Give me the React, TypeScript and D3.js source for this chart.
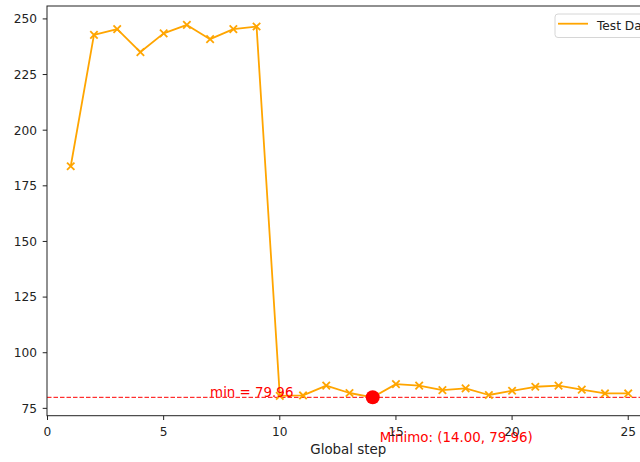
import React from "react";
import * as d3 from "d3";

// Loss per global step for the test set
const steps = [1, 2, 3, 4, 5, 6, 7, 8, 9, 10, 11, 12, 13, 14, 15, 16, 17, 18, 19, 20, 21, 22, 23, 24, 25];
const losses = [183.8, 242.8, 245.4, 235.1, 243.5, 247.3, 240.9, 245.4, 246.6, 80.6, 80.8, 85.2, 81.9, 79.96, 85.9, 85.2, 83.2, 84.0, 81.0, 82.9, 84.7, 85.2, 83.4, 81.7, 81.7];
const xTicks = [0, 5, 10, 15, 20, 25];
const yTicks = [75, 100, 125, 150, 175, 200, 225, 250];
const seriesLabel = "Test Data";

const W = 640;
const H = 462;
const FONT = "DejaVu Sans, sans-serif";

export default function App() {
  const left = 47;
  const top = 6;
  const bottom = 415.7;
  const x = d3.scaleLinear().domain([0, 25.92]).range([47.5, 649.6]);
  const y = d3.scaleLinear().domain([71.7, 255.8]).range([bottom, top]);
  const right = x.range()[1];

  const data = steps.map((s, i) => ({ s, v: losses[i] }));
  const line = d3
    .line<{ s: number; v: number }>()
    .x((d) => x(d.s))
    .y((d) => y(d.v));

  const minIdx = d3.minIndex(losses);
  const minStep = steps[minIdx];
  const minVal = losses[minIdx];
  const m = 3.7;

  return (
    <svg
      width={W}
      height={H}
      viewBox={`0 0 ${W} ${H}`}
      style={{ position: "absolute", left: 0, top: 0, background: "#fff" }}
      fontFamily={FONT}
    >
      {/* minimum reference line */}
      <line
        x1={left}
        x2={right}
        y1={y(minVal)}
        y2={y(minVal)}
        stroke="#ff0000"
        strokeWidth={1}
        strokeDasharray="4.5,2"
      />

      {/* series */}
      <path d={line(data) ?? ""} fill="none" stroke="#FFA500" strokeWidth={1.8} strokeLinejoin="round" />
      {data.map((d, i) => (
        <g key={i} stroke="#FFA500" strokeWidth={1.8}>
          <line x1={x(d.s) - m} x2={x(d.s) + m} y1={y(d.v) - m} y2={y(d.v) + m} />
          <line x1={x(d.s) - m} x2={x(d.s) + m} y1={y(d.v) + m} y2={y(d.v) - m} />
        </g>
      ))}

      {/* minimum marker and labels */}
      <circle cx={x(minStep)} cy={y(minVal)} r={7} fill="#ff0000" />
      <text x={x(7)} y={y(minVal)} fill="#ff0000" fontSize={13.4}>
        {`min = ${minVal.toFixed(2)}`}
      </text>
      <text x={x(minStep) + 7} y={441.5} fill="#ff0000" fontSize={13.4}>
        {`Mínimo: (${minStep.toFixed(2)}, ${minVal.toFixed(2)})`}
      </text>

      {/* axes frame */}
      <rect x={left} y={top} width={right - left} height={bottom - top} fill="none" stroke="#222" strokeWidth={1} />

      {/* y axis */}
      {yTicks.map((t) => (
        <g key={`y${t}`}>
          <line x1={left - 4.3} x2={left} y1={y(t)} y2={y(t)} stroke="#222" strokeWidth={1} />
          <text x={left - 10} y={y(t)} dy="0.36em" textAnchor="end" fontSize={12.2} fill="#222">
            {t}
          </text>
        </g>
      ))}

      {/* x axis */}
      {xTicks.map((t) => (
        <g key={`x${t}`}>
          <line x1={x(t)} x2={x(t)} y1={bottom} y2={bottom + 4.3} stroke="#222" strokeWidth={1} />
          <text x={x(t)} y={435.5} textAnchor="middle" fontSize={12.2} fill="#222">
            {t}
          </text>
        </g>
      ))}
      <text x={(left + right) / 2} y={454} textAnchor="middle" fontSize={13.4} fill="#222">
        Global step
      </text>

      {/* legend */}
      <rect x={555} y={14} width={110} height={23.5} rx={3} fill="#fff" fillOpacity={0.8} stroke="#d6d6d6" strokeWidth={1} />
      <line x1={558} x2={588} y1={23.7} y2={23.7} stroke="#FFA500" strokeWidth={1.8} />
      <text x={597} y={29.5} fontSize={12.2} fill="#222">
        {seriesLabel}
      </text>
    </svg>
  );
}
